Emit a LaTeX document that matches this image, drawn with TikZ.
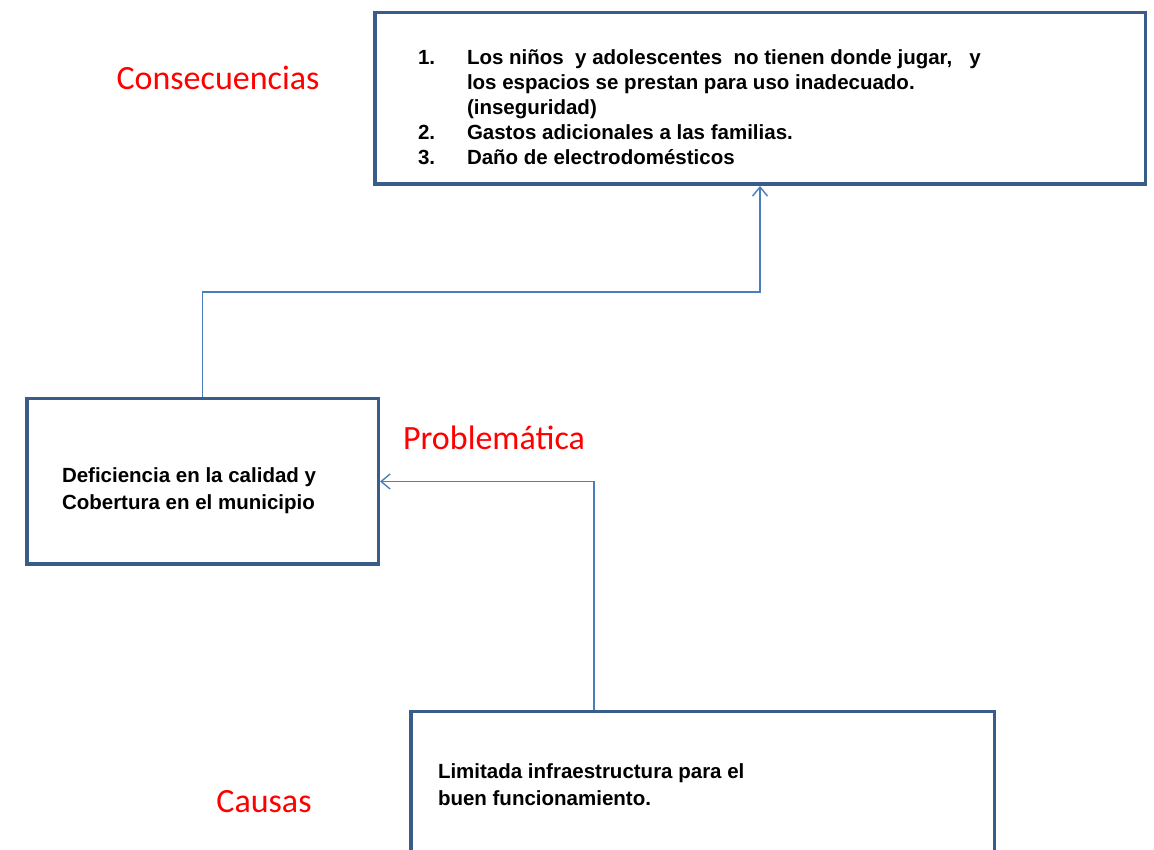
\documentclass[tikz,border=0pt]{standalone}
\usepackage{fontspec}
\setmainfont{Liberation Sans}
\newfontfamily\rotulo{Carlito}
\usetikzlibrary{arrows.meta,positioning}
\definecolor{bordeazul}{HTML}{385D8A}
\definecolor{lineaazul}{HTML}{4A7EBB}
\newcommand{\numitem}[1]{\makebox[49pt][l]{#1}}

\begin{document}
\begin{tikzpicture}[x=1pt,y=1pt]
  % Estilos de cajas, conectores y rotulos
  \tikzstyle{cajaarbol} = [draw=bordeazul, fill=white, line width=3.5pt,
  rectangle, inner sep=0pt, font=\fontsize{20.5}{27}\selectfont\bfseries]
  \tikzstyle{conector} = [draw=lineaazul, line width=1.4pt,
  -{Straight Barb[length=9pt,width=15pt]}]
  \tikzstyle{rotulorojo} = [text=red, inner sep=0pt,
  font=\rotulo\fontsize{34}{40}\selectfont]

  \clip (0,0) rectangle (1154,849);
  \fill[white] (0,0) rectangle (1154,849);

  \node[cajaarbol, minimum width=770.5pt, minimum height=171.5pt] (cons) at (760,750.5){%
    \begin{minipage}{684pt}
      \fontsize{20.5}{25}\selectfont
      \vspace*{18pt}
      \numitem{1.}Los niños\ \ y adolescentes\ \ no tienen donde jugar,\ \ \ y\\
      \numitem{}los espacios se prestan para uso inadecuado.\\
      \numitem{}(inseguridad)\\
      \numitem{2.}Gastos adicionales a las familias.\\
      \numitem{3.}Daño de electrodomésticos
    \end{minipage}
  };

  \node[cajaarbol, minimum width=351.5pt, minimum height=165.5pt] (prob) at (202.5,367.5){%
    \begin{minipage}{281pt}
      \vspace*{19pt}
      Deficiencia en la calidad y\\
      Cobertura en el municipio
    \end{minipage}
  };

  \node[cajaarbol, minimum width=583.5pt, minimum height=166.5pt] (causa) at (702.5,54){%
    \begin{minipage}{529pt}
      Limitada infraestructura para el\\
      buen funcionamiento.
      \par\vspace*{21pt}
    \end{minipage}
  };

  \node[rotulorojo] (tcons) at (218,771) {Consecuencias};
  \node[rotulorojo] (tprob) at (494,411) {Problemática};
  \node[rotulorojo] (tcausa) at (264,47) {Causas};

  \draw[conector] (prob.north) -- ++(0,105) -| (cons.south);
  \draw[conector] ([xshift=-108.5pt]causa.north) |- (prob.east);
\end{tikzpicture}
\end{document}
